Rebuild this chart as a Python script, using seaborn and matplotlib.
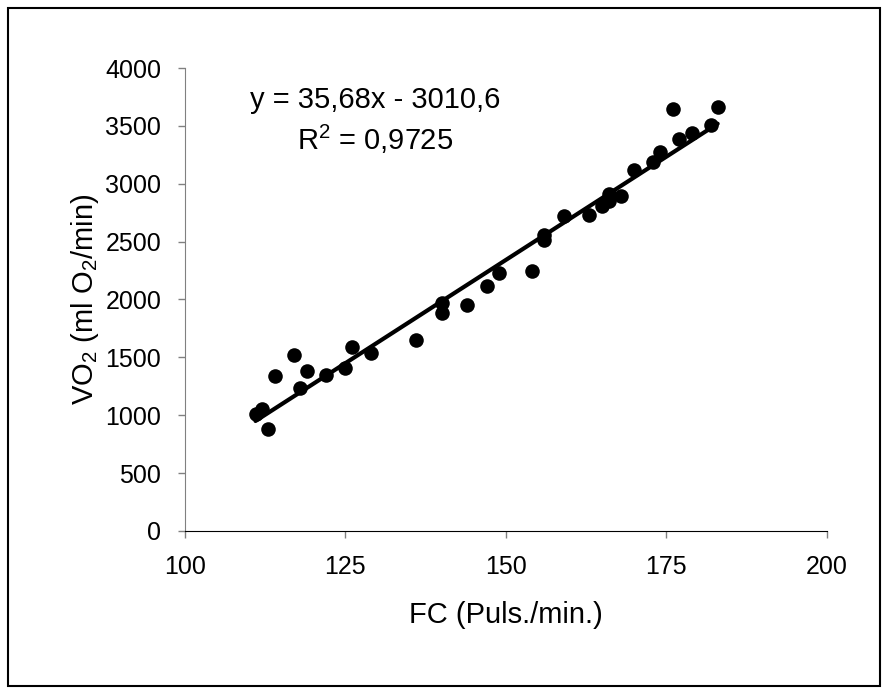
import matplotlib
matplotlib.use("Agg")
import matplotlib.pyplot as plt
import numpy as np
import pandas as pd
import seaborn as sns
from matplotlib.patches import Rectangle

# heart rate (beats/min) and oxygen uptake (ml O2/min)
FC = [111, 112, 113, 114, 117, 118, 119, 122, 125, 126, 129, 136,
      140, 140, 144, 147, 149, 154, 156, 156, 159, 163, 165, 166,
      166, 168, 170, 173, 174, 176, 177, 179, 182, 183]
VO2 = [1010, 1050, 880, 1340, 1520, 1235, 1380, 1350, 1410, 1590, 1540, 1650,
       1970, 1880, 1950, 2120, 2230, 2250, 2510, 2560, 2720, 2730, 2810, 2910,
       2850, 2890, 3120, 3190, 3270, 3650, 3390, 3440, 3510, 3660]

SLOPE = 35.68
INTERCEPT = -3010.6
X_TICKS = [100, 125, 150, 175, 200]
Y_TICKS = [0, 500, 1000, 1500, 2000, 2500, 3000, 3500, 4000]

sns.set_style("white")
plt.rcParams["font.family"] = ["Liberation Sans", "DejaVu Sans"]
plt.rcParams["mathtext.fontset"] = "custom"
plt.rcParams["mathtext.rm"] = "Liberation Sans"
plt.rcParams["mathtext.it"] = "Liberation Sans"
plt.rcParams["text.color"] = "black"
plt.rcParams["axes.labelcolor"] = "black"
plt.rcParams["xtick.labelcolor"] = "black"
plt.rcParams["ytick.labelcolor"] = "black"

data = pd.DataFrame({"fc": FC, "vo2": VO2})
fit_x = np.array([min(FC), max(FC)])
fit = pd.DataFrame({"fc": fit_x, "vo2": SLOPE * fit_x + INTERCEPT})

fig = plt.figure(figsize=(8.89, 6.94), dpi=100)
ax = fig.add_axes([0.208, 0.235, 0.722, 0.667])

sns.lineplot(data=fit, x="fc", y="vo2", color="black", linewidth=3, ax=ax)
sns.scatterplot(data=data, x="fc", y="vo2", color="black", s=110,
                edgecolor="black", linewidth=0, ax=ax, zorder=3)

ax.set_xlim(100, 200)
ax.set_ylim(0, 4000)
ax.set_xticks(X_TICKS)
ax.set_yticks(Y_TICKS)
ax.tick_params(axis="both", labelsize=18, length=5, width=1,
               color="#808080", direction="out", bottom=True, left=True)
ax.tick_params(axis="x", pad=12)
ax.tick_params(axis="y", pad=12)
for side in ["top", "right"]:
    ax.spines[side].set_visible(False)
ax.spines["left"].set_color("#808080")
ax.spines["bottom"].set_color("black")

ax.set_xlabel("FC (Puls./min.)", fontsize=21, labelpad=16)
ax.set_ylabel("VO$_2$ (ml O$_2$/min)", fontsize=21, labelpad=3)

ax.text(0.297, 0.931, "y = 35,68x - 3010,6", transform=ax.transAxes,
        fontsize=21, ha="center", va="center")
ax.text(0.297, 0.845, "R$^2$ = 0,9725", transform=ax.transAxes,
        fontsize=21, ha="center", va="center")

fig.patches.append(Rectangle((0.009, 0.011), 0.981, 0.978, transform=fig.transFigure,
                             fill=False, edgecolor="black", linewidth=1.5))

fig.savefig("out.png", dpi=100)
